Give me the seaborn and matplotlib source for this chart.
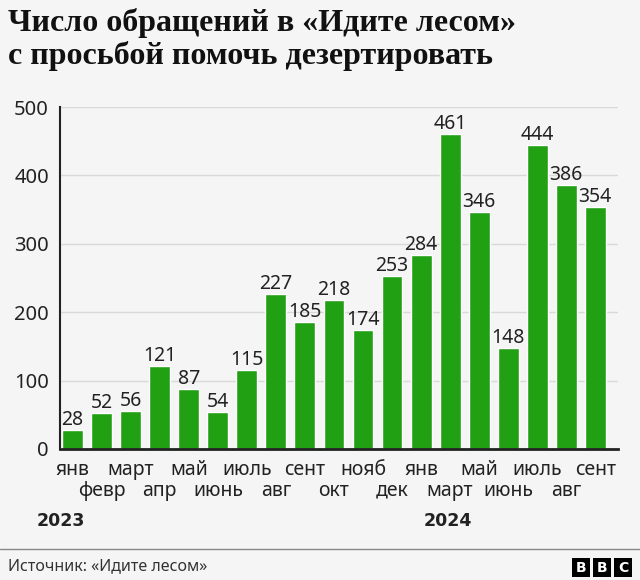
import matplotlib
matplotlib.use('Agg')
import matplotlib.pyplot as plt
from matplotlib.patches import Rectangle
from matplotlib.lines import Line2D
import seaborn as sns
import pandas as pd

# data
periods = ['2023-01', '2023-02', '2023-03', '2023-04', '2023-05', '2023-06', '2023-07',
           '2023-08', '2023-09', '2023-10', '2023-11', '2023-12',
           '2024-01', '2024-03', '2024-05', '2024-06', '2024-07', '2024-08', '2024-09']
month_labels = ['янв', 'февр', 'март', 'апр', 'май', 'июнь', 'июль', 'авг', 'сент', 'окт',
                'нояб', 'дек', 'янв', 'март', 'май', 'июнь', 'июль', 'авг', 'сент']
requests = [28, 52, 56, 121, 87, 54, 115, 227, 185, 218, 174, 253,
            284, 461, 346, 148, 444, 386, 354]
y_ticks = [0, 100, 200, 300, 400, 500]

bg = '#f5f5f5'
green = '#22a014'
fs = 14

sns.set_theme(style='white')
plt.rcParams['font.family'] = ['Noto Sans', 'DejaVu Sans']

df = pd.DataFrame({'period': periods, 'n': requests})

fig = plt.figure(figsize=(6.4, 5.8), dpi=100, facecolor=bg)
ax = fig.add_axes([0.094, 0.226, 0.872, 0.5895])
ax.set_facecolor(bg)

sns.barplot(data=df, x='period', y='n', order=periods, color=green, width=0.72,
            saturation=1, ax=ax, zorder=3)
ax.bar_label(ax.containers[0], padding=0, fontsize=fs, color='#222222')

ax.set_ylim(0, 500)
ax.set_xlim(-0.43, 18.79)
ax.set_yticks(y_ticks)
ax.set_yticklabels([str(v) for v in y_ticks], fontsize=14.5, color='#222222')
ax.yaxis.grid(True, color='#d9d9d9', linewidth=1, zorder=0)
ax.tick_params(axis='y', length=0, pad=8)

# two rows of month labels: even months as major ticks, odd months as minor ticks lower down
idx = list(range(len(periods)))
ax.set_xticks(idx[0::2])
ax.set_xticklabels(month_labels[0::2], fontsize=fs, color='#222222')
ax.set_xticks(idx[1::2], minor=True)
ax.set_xticklabels(month_labels[1::2], minor=True, fontsize=fs, color='#222222')
ax.tick_params(axis='x', which='major', length=7, width=1.5, color='#222222', pad=1)
ax.tick_params(axis='x', which='minor', length=7, width=1.5, color='#222222', pad=16)
ax.set_xlabel('')
ax.set_ylabel('')

for s in ['top', 'right']:
    ax.spines[s].set_visible(False)
ax.spines['left'].set_color('#222222')
ax.spines['left'].set_linewidth(1.5)
ax.spines['bottom'].set_color('#222222')
ax.spines['bottom'].set_linewidth(2)
ax.spines['left'].set_zorder(4)
ax.spines['bottom'].set_zorder(4)

# years
fig.text(37 / 640, 1 - 521 / 580, '2023', fontsize=12.5, fontweight='bold',
         family='DejaVu Sans', va='center', color='#222222')
fig.text(424 / 640, 1 - 521 / 580, '2024', fontsize=12.5, fontweight='bold',
         family='DejaVu Sans', va='center', color='#222222')

# title
fig.text(8 / 640, 1 - 23 / 580, 'Число обращений в «Идите лесом»', fontsize=23,
         fontweight='bold', family=['Liberation Serif', 'DejaVu Serif'], va='center', color='#111111')
fig.text(8 / 640, 1 - 56 / 580, 'с просьбой помочь дезертировать', fontsize=23,
         fontweight='bold', family=['Liberation Serif', 'DejaVu Serif'], va='center', color='#111111')

# footer
fig.add_artist(Line2D([0, 1], [1 - 549 / 580] * 2, color='#888888', linewidth=1))
fig.text(8 / 640, 1 - 566 / 580, 'Источник: «Идите лесом»', fontsize=11.5,
         va='center', color='#333333')
for i, letter in enumerate('BBC'):
    x0 = 572 + i * 21
    fig.add_artist(Rectangle((x0 / 640, 1 - 577 / 580), 18 / 640, 19 / 580,
                             facecolor='black', edgecolor='none', transform=fig.transFigure))
    fig.text((x0 + 9) / 640, 1 - 567.5 / 580, letter, fontsize=10, fontweight='bold',
             family='DejaVu Sans', color='white', ha='center', va='center')

fig.savefig('out.png', dpi=100, facecolor=bg)
